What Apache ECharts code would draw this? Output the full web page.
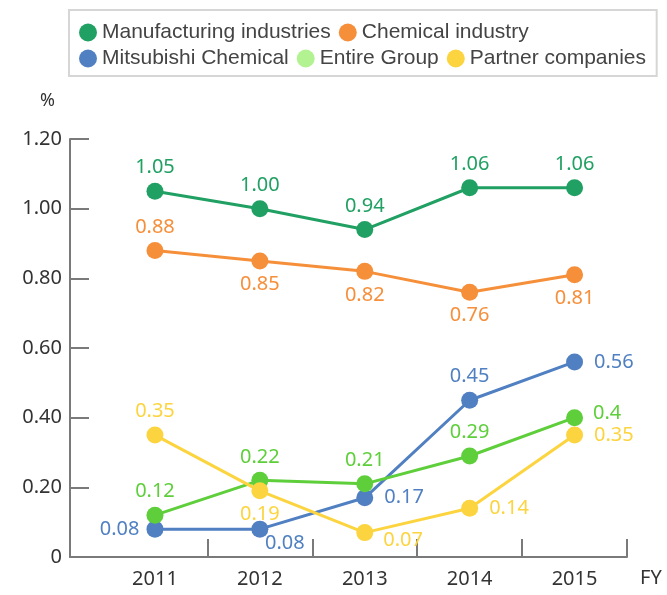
<!DOCTYPE html>
<html>
<head>
<meta charset="utf-8">
<script src="https://cdn.jsdelivr.net/npm/echarts@6/dist/echarts.min.js"></script>
<style>
  html, body { margin: 0; padding: 0; background: #fff; }
  #chart { width: 667px; height: 595px; }
</style>
</head>
<body>
<div id="chart"></div>
<script>
const years = [2011, 2012, 2013, 2014, 2015];
const manufacturing = [1.05, 1.00, 0.94, 1.06, 1.06];
const chemical = [0.88, 0.85, 0.82, 0.76, 0.81];
const mitsubishi = [0.08, 0.08, 0.17, 0.45, 0.56];
const entireGroup = [0.12, 0.22, 0.21, 0.29, 0.4];
const partners = [0.35, 0.19, 0.07, 0.14, 0.35];
const yTicks = [0, 0.2, 0.4, 0.6, 0.8, 1.0, 1.2];

const labelFont = 'Noto Sans';

const T = { position: 'top' };
const B = { position: 'bottom' };
const R = { position: 'right', distance: 11 };

const makeSeries = (name, values, color, places, fixed) => ({
  name,
  type: 'line',
  data: values.map((v, i) => ({ value: [years[i], v], label: places[i] })),
  symbol: 'circle',
  symbolSize: 17,
  lineStyle: { color, width: 3 },
  itemStyle: { color },
  label: {
    show: true,
    color,
    fontFamily: labelFont,
    fontSize: 20,
    formatter: (p) => fixed ? p.value[1].toFixed(2) : String(p.value[1])
  },
  emphasis: { disabled: true }
});

const chart = echarts.init(document.getElementById('chart'));

const legendText = { color: '#444', fontFamily: 'Liberation Sans', fontSize: 21 };

chart.setOption({
  animation: false,
  grid: { left: 70, right: 40, top: 139, bottom: 38 },
  legend: [
    {
      left: 69, top: 10,
      icon: 'circle', itemWidth: 18, itemHeight: 18, itemGap: 8,
      borderColor: '#d6d6d6', borderWidth: 2,
      padding: [12, 128, 33, 10],
      textStyle: legendText,
      data: ['Manufacturing industries', 'Chemical industry']
    },
    {
      left: 79, top: 48,
      icon: 'circle', itemWidth: 18, itemHeight: 18, itemGap: 8,
      padding: 0,
      textStyle: legendText,
      data: [
        'Mitsubishi Chemical',
        { name: 'Entire Group', itemStyle: { color: '#b3f290' } },
        'Partner companies'
      ]
    }
  ],
  xAxis: {
    type: 'value',
    min: 2010.19,
    max: 2015.5,
    name: 'FY',
    nameLocation: 'end',
    nameGap: 13,
    nameTextStyle: { color: '#333', fontFamily: labelFont, fontSize: 20, verticalAlign: 'top', padding: [11, 0, 0, 0] },
    axisLine: { lineStyle: { color: '#7a7a7a', width: 2 } },
    axisTick: {
      show: true, inside: true, length: 18,
      lineStyle: { color: '#7a7a7a', width: 2 },
      customValues: years.map((y) => y + 0.5)
    },
    axisLabel: {
      color: '#333', fontFamily: labelFont, fontSize: 20, margin: 12,
      customValues: years,
      formatter: (v) => String(v)
    },
    splitLine: { show: false }
  },
  yAxis: {
    type: 'value',
    min: 0,
    max: 1.2,
    name: '%',
    nameLocation: 'end',
    nameGap: 38,
    nameTextStyle: { color: '#333', fontFamily: labelFont, fontSize: 18, align: 'right', verticalAlign: 'middle', padding: [0, 15, 0, 0] },
    axisLine: { show: true, lineStyle: { color: '#7a7a7a', width: 2 } },
    axisTick: {
      show: true, inside: true, length: 19,
      lineStyle: { color: '#7a7a7a', width: 2 },
      customValues: yTicks
    },
    axisLabel: {
      color: '#333', fontFamily: labelFont, fontSize: 20, margin: 8,
      customValues: yTicks,
      formatter: (v) => v === 0 ? '0' : v.toFixed(2)
    },
    splitLine: { show: false }
  },
  series: [
    makeSeries('Manufacturing industries', manufacturing, '#21a063', [T, T, T, T, T], true),
    makeSeries('Chemical industry', chemical, '#f68f3a', [T, B, B, B, B], false),
    makeSeries('Mitsubishi Chemical', mitsubishi, '#5080c2',
      [{ position: 'left', distance: 7 }, { position: 'bottom', offset: [25, -9] }, R, T, R], false),
    makeSeries('Entire Group', entireGroup, '#5ecf3b', [T, T, T, T, { position: 'right', distance: 10, offset: [0, -4] }], false),
    makeSeries('Partner companies', partners, '#fcd43f',
      [T, B, { position: 'right', distance: 5, offset: [5, 8] }, R, R], false)
  ]
});
</script>
</body>
</html>
